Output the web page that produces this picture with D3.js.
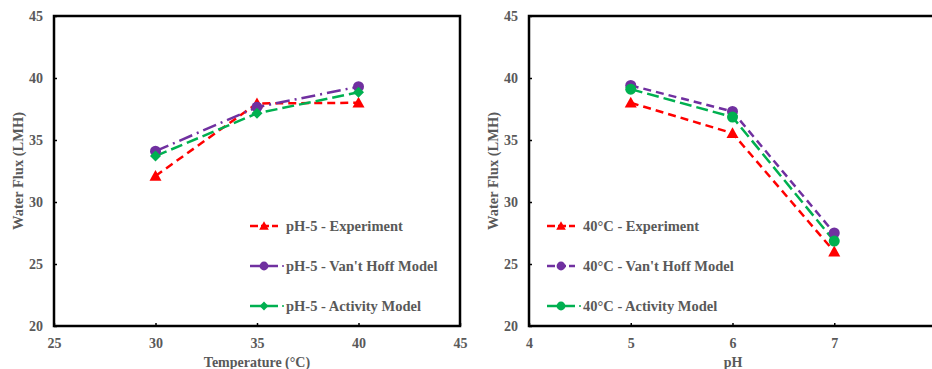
<!DOCTYPE html>
<html><head><meta charset="utf-8">
<script src="https://cdn.jsdelivr.net/npm/d3@7"></script>
<style>
body{margin:0;background:#fff;}
text{font-family:"Liberation Serif","Times New Roman",serif;font-weight:bold;fill:#595959;}
</style></head>
<body><svg id="c" width="932" height="369"></svg>
<script>
// Left panel: pH-5, flux vs temperature
const temps = [30, 35, 40];
const leftExp = [32.1, 37.95, 38.0];
const leftVH = [34.1, 37.65, 39.3];
const leftAct = [33.7, 37.15, 38.85];
const leftXTicks = [25, 30, 35, 40, 45];
const leftNames = ["pH-5 - Experiment", "pH-5 - Van't Hoff Model", "pH-5 - Activity Model"];

// Right panel: 40°C, flux vs pH
const phs = [5, 6, 7];
const rightExp = [38.0, 35.55, 26.0];
const rightVH = [39.4, 37.3, 27.5];
const rightAct = [39.1, 36.85, 26.85];
const rightXTicks = [4, 5, 6, 7, 8];
const rightNames = ["40°C - Experiment", "40°C - Van't Hoff Model", "40°C - Activity Model"];

const yTicks = [20, 25, 30, 35, 40, 45];

const svg = d3.select("#c");
const RED = "#ff0000", PURPLE = "#7030a0", GREEN = "#00b050";

function panel(cfg) {
  const x = d3.scaleLinear().domain(cfg.xDomain).range([cfg.x0, cfg.x1]);
  const y = d3.scaleLinear().domain([20, 45]).range([326, 16]);
  const g = svg.append("g");

  // frame
  g.append("rect").attr("x", cfg.x0).attr("y", 16).attr("width", cfg.x1 - cfg.x0).attr("height", 310)
    .attr("fill", "none").attr("stroke", "#000").attr("stroke-width", 2.5);

  // axes with inward ticks
  const xa = g.append("g").attr("transform", "translate(0,326)")
    .call(d3.axisBottom(x).tickValues(cfg.xTicks).tickSize(-3).tickPadding(12).tickFormat(d3.format("d")));
  xa.select(".domain").remove();
  xa.selectAll("line").attr("stroke", "#000").attr("stroke-width", 1.5);
  xa.selectAll("text").attr("font-size", 14).attr("dy", "0.35em").attr("y", 17);

  const ya = g.append("g").attr("transform", `translate(${cfg.x0},0)`)
    .call(d3.axisLeft(y).tickValues(yTicks).tickSize(-3).tickPadding(11).tickFormat(d3.format("d")));
  ya.select(".domain").remove();
  ya.selectAll("line").attr("stroke", "#000").attr("stroke-width", 1.5);
  ya.selectAll("text").attr("font-size", 14).attr("fill", "#595959");

  // axis titles
  g.append("text").attr("x", (cfg.xTitleX)).attr("y", 367).attr("text-anchor", "middle")
    .attr("font-size", 14).text(cfg.xTitle);
  g.append("text").attr("transform", `translate(${cfg.yTitleX},171) rotate(-90)`)
    .attr("text-anchor", "middle").attr("dy", "0.35em").attr("font-size", 14.5).text("Water Flux (LMH)");

  const line = d3.line().x((d, i) => x(cfg.xs[i])).y(d => y(d));

  cfg.series.forEach((s, si) => {
    g.append("path").datum(s.values).attr("d", line).attr("fill", "none")
      .attr("stroke", s.color).attr("stroke-width", 2.5).attr("stroke-dasharray", s.dash);
  });
  cfg.series.forEach((s) => {
    s.values.forEach((v, i) => marker(g, s.shape, x(cfg.xs[i]), y(v), s.color));
  });

  // legend
  cfg.series.forEach((s, i) => {
    const ly = 226 + i * 40;
    g.append("line").attr("x1", cfg.legX).attr("x2", cfg.legX + 28).attr("y1", ly).attr("y2", ly)
      .attr("stroke", s.color).attr("stroke-width", 2.5).attr("stroke-dasharray", s.legDash || null);
    if (s.legDot) {
      g.append("circle").attr("cx", cfg.legX + 33).attr("cy", ly).attr("r", 1).attr("fill", s.color);
    }
    marker(g, s.shape, cfg.legX + 14, ly, s.color, 0.8);
    g.append("text").attr("x", cfg.legX + 36).attr("y", ly).attr("dy", "0.35em")
      .attr("font-size", 14.5).text(cfg.names[i]);
  });
}

function marker(g, shape, cx, cy, color, k = 1) {
  if (shape === "circle") {
    g.append("circle").attr("cx", cx).attr("cy", cy).attr("r", 5.5 * k).attr("fill", color);
  } else if (shape === "triangle") {
    const s = 6 * k;
    g.append("path").attr("d", `M${cx},${cy - s}L${cx + s},${cy + s * 0.8}L${cx - s},${cy + s * 0.8}Z`).attr("fill", color);
  } else if (shape === "diamond") {
    const s = 5.5 * k;
    g.append("path").attr("d", `M${cx},${cy - s}L${cx + s},${cy}L${cx},${cy + s}L${cx - s},${cy}Z`).attr("fill", color);
  }
}

panel({
  x0: 54, x1: 460, xDomain: [25, 45], xTicks: leftXTicks, xs: temps,
  xTitle: "Temperature (°C)", xTitleX: 257, yTitleX: 18, legX: 250, names: leftNames,
  series: [
    { values: leftExp, color: RED, dash: "8,5", shape: "triangle", legDash: "8,3" },
    { values: leftVH, color: PURPLE, dash: "14,5,2,5", shape: "circle", legDot: true },
    { values: leftAct, color: GREEN, dash: "12,5", shape: "diamond", legDot: true }
  ]
});

panel({
  x0: 529, x1: 936, xDomain: [4, 8], xTicks: rightXTicks, xs: phs,
  xTitle: "pH", xTitleX: 733, yTitleX: 493, legX: 547, names: rightNames,
  series: [
    { values: rightExp, color: RED, dash: "8,5", shape: "triangle", legDash: "8,3" },
    { values: rightVH, color: PURPLE, dash: "8,5", shape: "circle", legDash: "8,3" },
    { values: rightAct, color: GREEN, dash: "12,5", shape: "circle", legDot: true }
  ]
});
</script></body></html>
